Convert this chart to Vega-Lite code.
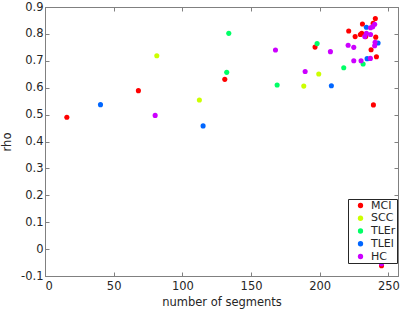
{
  "$schema": "https://vega.github.io/schema/vega-lite/v6.json",
  "width": 353,
  "height": 269,
  "autosize": {"type": "none"},
  "padding": {"left": 45, "top": 7, "right": 5, "bottom": 36},
  "background": "white",
  "config": {
    "view": {"stroke": "#808080", "strokeWidth": 1},
    "font": "DejaVu Sans",
    "axis": {
      "grid": false,
      "domainColor": "#808080",
      "tickColor": "#808080",
      "tickSize": -4,
      "labelColor": "#262626",
      "titleColor": "#262626",
      "labelFont": "DejaVu Sans",
      "titleFont": "DejaVu Sans",
      "labelFontSize": 11.5,
      "titleFontSize": 11.5,
      "titleFontWeight": "normal"
    }
  },
  "data": {
    "values": [
      {"segments": 15.9, "rho": 0.49, "group": "MCI"},
      {"segments": 68, "rho": 0.589, "group": "MCI"},
      {"segments": 130.9, "rho": 0.631, "group": "MCI"},
      {"segments": 196.6, "rho": 0.751, "group": "MCI"},
      {"segments": 240.5, "rho": 0.857, "group": "MCI"},
      {"segments": 238.9, "rho": 0.839, "group": "MCI"},
      {"segments": 231.1, "rho": 0.837, "group": "MCI"},
      {"segments": 221.1, "rho": 0.811, "group": "MCI"},
      {"segments": 230.6, "rho": 0.802, "group": "MCI"},
      {"segments": 229.6, "rho": 0.798, "group": "MCI"},
      {"segments": 225.8, "rho": 0.79, "group": "MCI"},
      {"segments": 240.8, "rho": 0.788, "group": "MCI"},
      {"segments": 233.5, "rho": 0.79, "group": "MCI"},
      {"segments": 237.4, "rho": 0.741, "group": "MCI"},
      {"segments": 241.3, "rho": 0.715, "group": "MCI"},
      {"segments": 239.1, "rho": 0.536, "group": "MCI"},
      {"segments": 245, "rho": -0.062, "group": "MCI"},
      {"segments": 81.4, "rho": 0.719, "group": "SCC"},
      {"segments": 112.4, "rho": 0.554, "group": "SCC"},
      {"segments": 199.3, "rho": 0.651, "group": "SCC"},
      {"segments": 188.4, "rho": 0.606, "group": "SCC"},
      {"segments": 132.3, "rho": 0.657, "group": "TLEr"},
      {"segments": 133.8, "rho": 0.802, "group": "TLEr"},
      {"segments": 169, "rho": 0.61, "group": "TLEr"},
      {"segments": 198.1, "rho": 0.764, "group": "TLEr"},
      {"segments": 217.5, "rho": 0.674, "group": "TLEr"},
      {"segments": 231.6, "rho": 0.688, "group": "TLEr"},
      {"segments": 40.4, "rho": 0.537, "group": "TLEl"},
      {"segments": 115.1, "rho": 0.458, "group": "TLEl"},
      {"segments": 208.5, "rho": 0.607, "group": "TLEl"},
      {"segments": 234, "rho": 0.825, "group": "TLEl"},
      {"segments": 242.5, "rho": 0.766, "group": "TLEl"},
      {"segments": 234.5, "rho": 0.708, "group": "TLEl"},
      {"segments": 80.2, "rho": 0.497, "group": "HC"},
      {"segments": 167.8, "rho": 0.74, "group": "HC"},
      {"segments": 189.4, "rho": 0.66, "group": "HC"},
      {"segments": 207.8, "rho": 0.734, "group": "HC"},
      {"segments": 240, "rho": 0.836, "group": "HC"},
      {"segments": 237, "rho": 0.823, "group": "HC"},
      {"segments": 238.6, "rho": 0.827, "group": "HC"},
      {"segments": 234, "rho": 0.802, "group": "HC"},
      {"segments": 237, "rho": 0.798, "group": "HC"},
      {"segments": 232.8, "rho": 0.79, "group": "HC"},
      {"segments": 240.3, "rho": 0.769, "group": "HC"},
      {"segments": 240, "rho": 0.756, "group": "HC"},
      {"segments": 220.7, "rho": 0.758, "group": "HC"},
      {"segments": 224.8, "rho": 0.75, "group": "HC"},
      {"segments": 236.9, "rho": 0.709, "group": "HC"},
      {"segments": 224.8, "rho": 0.7, "group": "HC"},
      {"segments": 230.1, "rho": 0.7, "group": "HC"},
      {"segments": 245, "rho": -0.054, "group": "HC"}
    ]
  },
  "resolve": {"axis": {"x": "independent", "y": "independent"}},
  "layer": [
    {
      "mark": {"type": "circle", "size": 26, "opacity": 1},
      "encoding": {
        "x": {
          "field": "segments", "type": "quantitative",
          "scale": {"domain": [0, 257], "nice": false, "zero": false},
          "axis": {"title": "number of segments", "values": [0, 50, 100, 150, 200, 250], "labelPadding": 8, "titlePadding": 5}
        },
        "y": {
          "field": "rho", "type": "quantitative",
          "scale": {"domain": [-0.1, 0.9], "nice": false, "zero": false},
          "axis": {
            "title": "rho",
            "values": [-0.1, 0, 0.1, 0.2, 0.3, 0.4, 0.5, 0.6, 0.7, 0.8, 0.9],
            "labelExpr": "replace(format(datum.value, '.1~f'), '\u2212', '-')",
            "labelPadding": 6,
            "titlePadding": 8
          }
        },
        "color": {
          "field": "group", "type": "nominal",
          "scale": {"domain": ["MCI", "SCC", "TLEr", "TLEl", "HC"], "range": ["#ff0000", "#ccff00", "#00ff66", "#0066ff", "#cc00ff"]},
          "legend": {
            "title": null,
            "orient": "none",
            "legendX": 303,
            "legendY": 192,
            "fillColor": "white",
            "strokeColor": "#262626",
            "padding": 1,
            "symbolType": "circle",
            "symbolSize": 28,
            "symbolStrokeWidth": 0,
            "labelFontSize": 11,
            "labelFont": "DejaVu Sans",
            "labelColor": "#262626",
            "rowPadding": 0.75,
            "symbolOffset": 6,
            "labelOffset": 5
          }
        }
      }
    },
    {
      "mark": {"type": "circle", "opacity": 0},
      "encoding": {
        "x": {
          "field": "segments", "type": "quantitative",
          "axis": {"orient": "top", "title": null, "labels": false, "values": [0, 50, 100, 150, 200, 250]}
        },
        "y": {
          "field": "rho", "type": "quantitative",
          "axis": {"orient": "right", "title": null, "labels": false, "values": [-0.1, 0, 0.1, 0.2, 0.3, 0.4, 0.5, 0.6, 0.7, 0.8, 0.9]}
        }
      }
    }
  ]
}
